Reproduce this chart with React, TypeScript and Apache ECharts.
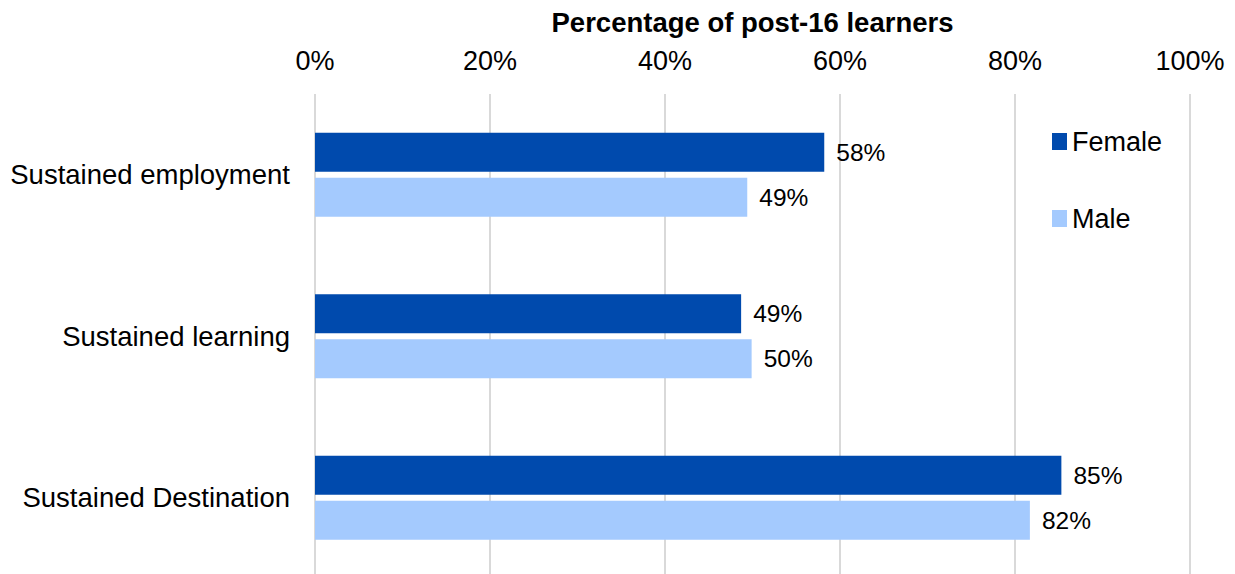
import React, { useEffect, useRef } from "react";
import * as echarts from "echarts";

const categories = ["Sustained employment", "Sustained learning", "Sustained Destination"];
const femaleValues = [58.2, 48.7, 85.3];
const maleValues = [49.4, 49.9, 81.7];
const seriesNames = ["Female", "Male"];
const axisTitle = "Percentage of post-16 learners";

export default function App() {
  const ref = useRef<HTMLDivElement>(null);
  useEffect(() => {
    if (!ref.current) return;
    const chart = echarts.init(ref.current, null, { renderer: "svg" });
    const font = "'Liberation Sans', Arial, sans-serif";
    const labelCfg = {
      show: true,
      position: "right",
      distance: 12,
      formatter: (p: any) => Math.round(p.value) + "%",
      fontSize: 24.5,
      color: "#000",
      fontFamily: font,
    };
    chart.setOption({
      animation: false,
      textStyle: { fontFamily: font },
      grid: { left: 315, width: 875, top: 94, height: 484.5, containLabel: false, outerBoundsMode: "none" },
      legend: {
        orient: "vertical",
        left: 1052,
        top: 128,
        padding: 0,
        itemWidth: 15,
        itemHeight: 17,
        itemGap: 50,
        icon: "rect",
        textStyle: { fontSize: 27, color: "#000", fontFamily: font },
        data: seriesNames,
      },
      xAxis: {
        type: "value",
        position: "top",
        min: 0,
        max: 100,
        interval: 20,
        name: axisTitle,
        nameLocation: "middle",
        nameGap: 58,
        nameTextStyle: { fontSize: 27.5, fontWeight: "bold", color: "#000", fontFamily: font },
        axisLine: { show: false },
        axisTick: { show: false },
        axisLabel: { formatter: "{value}%", fontSize: 27, color: "#000", margin: 20, fontFamily: font },
        splitLine: { lineStyle: { color: "#d9d9d9", width: 2 } },
      },
      yAxis: {
        type: "category",
        inverse: true,
        data: categories,
        axisLine: { show: false },
        axisTick: { show: false },
        axisLabel: { fontSize: 27.5, color: "#000", margin: 25, fontFamily: font },
      },
      series: [
        {
          name: seriesNames[0],
          type: "bar",
          data: femaleValues,
          barWidth: 39,
          barGap: "15%",
          itemStyle: { color: "#004AAD" },
          label: labelCfg,
        },
        {
          name: seriesNames[1],
          type: "bar",
          data: maleValues,
          barWidth: 39,
          barGap: "15%",
          itemStyle: { color: "#A4CAFE" },
          label: labelCfg,
        },
      ],
    });
    return () => chart.dispose();
  }, []);
  return (
    <div
      ref={ref}
      style={{ position: "fixed", left: 0, top: 0, width: 1235, height: 574, background: "#fff" }}
    />
  );
}
